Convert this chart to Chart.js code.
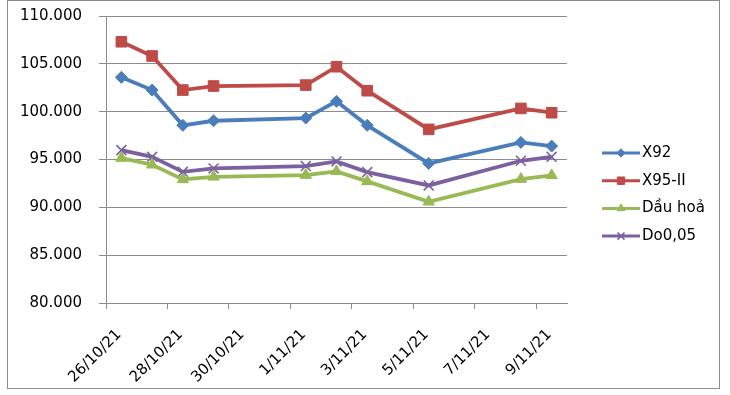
<!DOCTYPE html>
<html>
<head>
<meta charset="utf-8">
<script src="https://cdn.jsdelivr.net/npm/chart.js@4.4.1/dist/chart.umd.min.js"></script>
<style>
  html, body { margin: 0; padding: 0; background: #fff; }
  #wrap { position: relative; width: 730px; height: 395px; }
  #frame { position: absolute; left: 7px; top: 0px; width: 711px; height: 387px; border: 1px solid #8c8c8c; pointer-events: none; }
  canvas { position: absolute; left: 0; top: 0; }
</style>
</head>
<body>
<div id="wrap">
  <canvas id="priceChart" width="730" height="395"></canvas>
  <div id="frame"></div>
</div>
<script>
// dates of the observations
const pointDates = ['26/10/21', '27/10/21', '28/10/21', '29/10/21', '1/11/21', '2/11/21', '3/11/21', '5/11/21', '8/11/21', '9/11/21'];
// tick labels on the date axis (every 2 days)
const xTickLabels = ['26/10/21', '28/10/21', '30/10/21', '1/11/21', '3/11/21', '5/11/21', '7/11/21', '9/11/21'];
const yTicks = [80000, 85000, 90000, 95000, 100000, 105000, 110000];

const seriesNames = ['X92', 'X95-II', 'Dầu hoả', 'Do0,05'];
const x92 = [103590, 102260, 98570, 99050, 99330, 101080, 98570, 94590, 96790, 96400];
const x95 = [107310, 105820, 102260, 102680, 102780, 104700, 102190, 98150, 100340, 99890];
const dauHoa = [95150, 94450, 92920, 93190, 93370, 93760, 92710, 90580, 92950, 93340];
const do005 = [95980, 95280, 93710, 94070, 94310, 94800, 93680, 92290, 94870, 95280];

function parseDate(s) {
    const p = s.split('/').map(Number);
    return new Date(2000 + p[2], p[1] - 1, p[0]);
}
const day0 = parseDate(xTickLabels[0]);
function dayIndex(s) {
    return Math.round((parseDate(s) - day0) / 86400000);
}
// points sit in the middle of their day, like Excel's "between tick marks" date axis
function toPoints(values) {
    return values.map((v, i) => ({ x: dayIndex(pointDates[i]) + 0.5, y: v }));
}
function fmtThousands(v) {
    return String(v).replace(/\B(?=(\d{3})+(?!\d))/g, '.');
}

const FONT = 'DejaVu Sans';
const gridGray = '#8c8c8c';

const styles = [
    { color: '#4a7ebb', pointStyle: 'rectRot', radius: 6, pbw: 1 },
    { color: '#be4b48', pointStyle: 'rect', radius: 7.5, pbw: 1 },
    { color: '#98b954', pointStyle: 'triangle', radius: 6.5, pbw: 1 },
    { color: '#7d60a0', pointStyle: 'crossRot', radius: 7, pbw: 1.6 }
];
const allValues = [x92, x95, dauHoa, do005];

const datasets = allValues.map((vals, i) => ({
    label: seriesNames[i],
    data: toPoints(vals),
    borderColor: styles[i].color,
    backgroundColor: styles[i].color,
    borderWidth: 3.8,
    pointStyle: styles[i].pointStyle,
    pointRadius: styles[i].radius,
    pointBorderWidth: styles[i].pbw,
    pointBackgroundColor: styles[i].color,
    pointBorderColor: styles[i].color,
    tension: 0
}));

// legend on the right: short line with the marker in the middle, then the name
const sideLegend = {
    id: 'sideLegend',
    afterDraw(chart) {
        const ctx = chart.ctx;
        const lineX0 = 602, lineX1 = 640, textX = 642;
        const startY = 153, rowH = 27.7;
        ctx.save();
        chart.data.datasets.forEach((ds, i) => {
            const y = startY + i * rowH;
            ctx.strokeStyle = ds.borderColor;
            ctx.lineWidth = 3;
            ctx.beginPath();
            ctx.moveTo(lineX0, y);
            ctx.lineTo(lineX1, y);
            ctx.stroke();
            ctx.fillStyle = ds.borderColor;
            ctx.lineWidth = ds.pointBorderWidth;
            Chart.helpers.drawPoint(ctx, {
                pointStyle: ds.pointStyle,
                radius: ds.pointRadius * 0.7,
                rotation: 0,
                borderWidth: ds.pointBorderWidth
            }, (lineX0 + lineX1) / 2, y);
            ctx.fillStyle = '#000';
            ctx.font = '15px "' + FONT + '"';
            ctx.textAlign = 'left';
            ctx.textBaseline = 'middle';
            ctx.fillText(ds.label, textX, y);
        });
        ctx.restore();
    }
};

new Chart(document.getElementById('priceChart'), {
    type: 'line',
    data: { datasets: datasets },
    plugins: [sideLegend],
    options: {
        responsive: false,
        animation: false,
        devicePixelRatio: 1,
        layout: { autoPadding: false, padding: { left: 20, top: 16, right: 163, bottom: 0 } },
        plugins: {
            legend: { display: false },
            tooltip: { enabled: false }
        },
        scales: {
            x: {
                type: 'linear',
                min: 0,
                max: 15,
                afterFit: (scale) => { scale.height = 92; scale.paddingLeft = 0; scale.paddingRight = 0; },
                border: { color: gridGray, width: 1 },
                grid: { drawOnChartArea: false, drawTicks: true, tickLength: 6, color: gridGray },
                ticks: {
                    stepSize: 2,
                    includeBounds: false,
                    autoSkip: false,
                    minRotation: 45,
                    maxRotation: 45,
                    labelOffset: 13,
                    padding: 17,
                    color: '#000',
                    font: { family: FONT, size: 15 },
                    callback: (v) => xTickLabels[v / 2]
                }
            },
            y: {
                min: yTicks[0],
                max: yTicks[yTicks.length - 1],
                afterFit: (scale) => { scale.width = 86; scale.paddingTop = 0; scale.paddingBottom = 0; },
                afterBuildTicks: (scale) => { scale.ticks = yTicks.map(v => ({ value: v })); },
                border: { color: gridGray, width: 1 },
                grid: { color: gridGray, lineWidth: 1, tickLength: 7 },
                ticks: {
                    padding: 17,
                    color: '#000',
                    font: { family: FONT, size: 15 },
                    callback: (v) => fmtThousands(v)
                }
            }
        }
    }
});
</script>
</body>
</html>
